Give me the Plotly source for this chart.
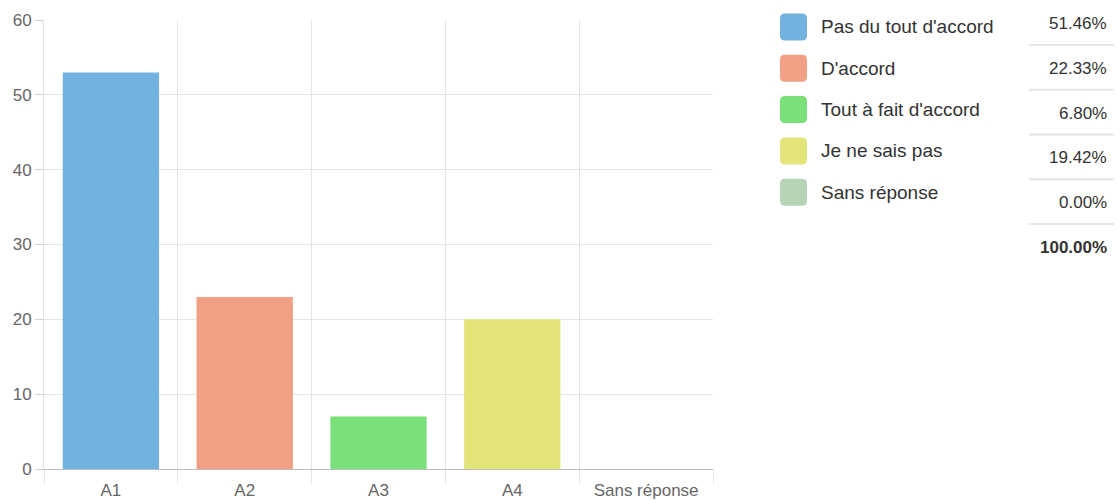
import plotly.graph_objects as go

# Response counts per answer
categories = ["A1", "A2", "A3", "A4", "Sans réponse"]
answers = ["Pas du tout d'accord", "D'accord", "Tout à fait d'accord",
           "Je ne sais pas", "Sans réponse"]
counts = [53, 23, 7, 20, 0]
colors = ["#71b3de", "#f1a086", "#7ae07a", "#e3e47a", "#b7d4b7"]
y_ticks = [0, 10, 20, 30, 40, 50, 60]

W, H = 1117, 500
L, R, T, B = 44, 404, 20, 31
PW, PH = W - L - R, H - T - B
FONT = "Liberation Sans, Arial"


def px(x):
    return (x - L) / PW


def py(y):
    return (H - B - y) / PH


total = sum(counts)
shares = [100 * c / total for c in counts]

fig = go.Figure()
fig.add_trace(go.Bar(
    x=categories, y=counts,
    marker=dict(color=colors, line=dict(width=0)),
    width=0.72, hoverinfo="x+y", showlegend=False,
))

shapes = []
annotations = []


def rounded_rect(x0, y0, x1, y1, r):
    # corners in pixels -> paper path with rounded corners
    pts = [
        f"M {px(x0 + r)},{py(y0)}",
        f"L {px(x1 - r)},{py(y0)}",
        f"Q {px(x1)},{py(y0)} {px(x1)},{py(y0 + r)}",
        f"L {px(x1)},{py(y1 - r)}",
        f"Q {px(x1)},{py(y1)} {px(x1 - r)},{py(y1)}",
        f"L {px(x0 + r)},{py(y1)}",
        f"Q {px(x0)},{py(y1)} {px(x0)},{py(y1 - r)}",
        f"L {px(x0)},{py(y0 + r)}",
        f"Q {px(x0)},{py(y0)} {px(x0 + r)},{py(y0)}",
        "Z",
    ]
    return " ".join(pts)


# Legend table on the right: swatches, labels, percentages, separators
for i, (name, col, pct) in enumerate(zip(answers, colors, shares)):
    top = 13.5 + i * 41.3
    shapes.append(dict(
        type="path", xref="paper", yref="paper",
        path=rounded_rect(780, top, 807, top + 27, 5),
        fillcolor=col, line=dict(width=0), layer="above",
    ))
    annotations.append(dict(
        xref="paper", yref="paper", x=px(819), y=py(top + 13.5),
        text=name, showarrow=False, xanchor="left", yanchor="middle",
        font=dict(size=19, color="#333333", family=FONT),
    ))
    annotations.append(dict(
        xref="paper", yref="paper", x=px(1109), y=py(24 + i * 44.6),
        text=f"{pct:.2f}%", showarrow=False, xanchor="right", yanchor="middle",
        font=dict(size=17, color="#333333", family=FONT),
    ))
    shapes.append(dict(
        type="line", xref="paper", yref="paper",
        x0=px(1029), x1=px(1114), y0=py(45 + i * 44.75), y1=py(45 + i * 44.75),
        line=dict(color="#e6e6e6", width=2),
    ))

annotations.append(dict(
    xref="paper", yref="paper", x=px(1109), y=py(24 + 5 * 44.6),
    text=f"<b>{sum(shares):.2f}%</b>", showarrow=False,
    xanchor="right", yanchor="middle",
    font=dict(size=17, color="#333333", family=FONT),
))

fig.update_layout(
    width=W, height=H,
    margin=dict(l=L, r=R, t=T, b=B, autoexpand=False),
    paper_bgcolor="white", plot_bgcolor="white",
    font=dict(family=FONT, size=17, color="#666666"),
    shapes=shapes, annotations=annotations,
    xaxis=dict(
        type="category", tickson="boundaries",
        range=[-0.5, 4.5], automargin=False,
        showgrid=True, gridcolor="#e5e5e5", gridwidth=1,
        ticks="outside", ticklen=14, tickcolor="#e5e5e5",
        ticklabelstandoff=6,
        showline=True, linecolor="#bdbdbd", linewidth=1,
        tickfont=dict(size=17, color="#666666"),
        fixedrange=True,
    ),
    yaxis=dict(
        range=[0, 60], tickvals=y_ticks, automargin=False,
        showgrid=True, gridcolor="#e5e5e5", gridwidth=1,
        ticks="outside", ticklen=8, tickcolor="#d0d0d0",
        showline=True, linecolor="#e0e0e0", linewidth=1,
        zeroline=False,
        tickfont=dict(size=17, color="#666666"),
        fixedrange=True,
    ),
)

fig.write_html("out.html")
